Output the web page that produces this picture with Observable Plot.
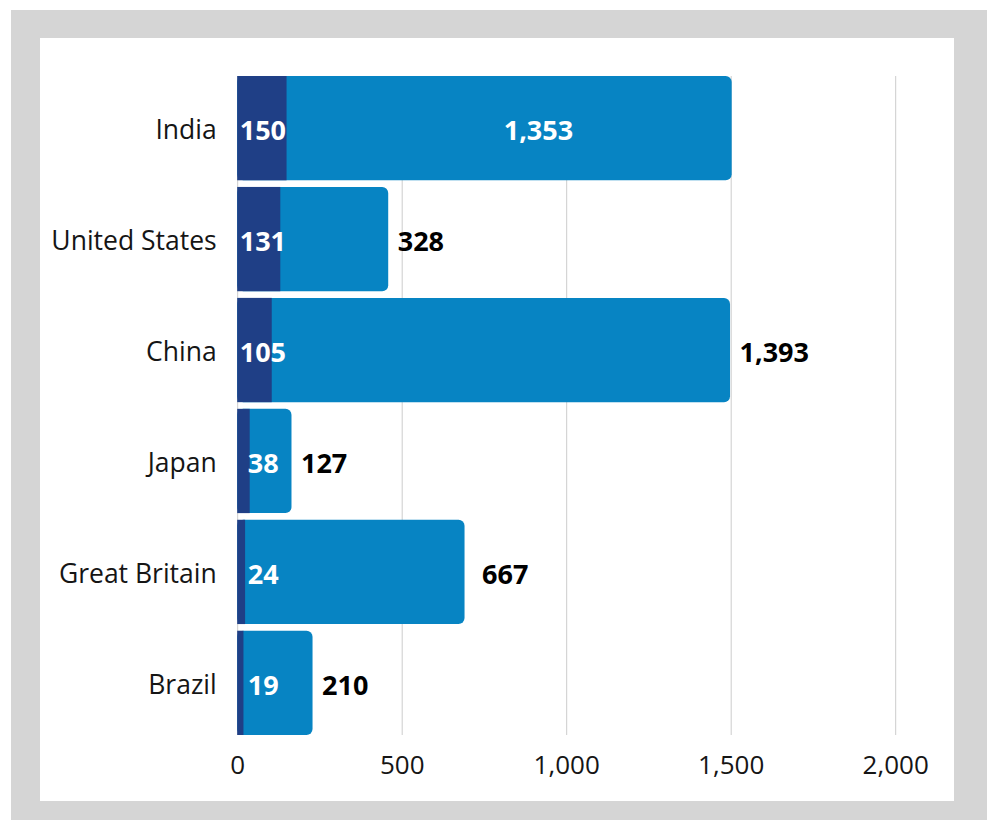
<!DOCTYPE html>
<html>
<head>
<meta charset="utf-8">
<script src="https://cdn.jsdelivr.net/npm/d3@7"></script>
<script src="https://cdn.jsdelivr.net/npm/@observablehq/plot@0.6"></script>
<style>
  html, body { margin: 0; padding: 0; width: 987px; height: 820px; overflow: hidden; background: #ffffff; }
  #frame { position: absolute; left: 11px; top: 10px; width: 976px; height: 810px; background: #d5d5d5; }
  #panel { position: absolute; left: 40px; top: 38px; width: 914px; height: 763px; background: #ffffff; }
  #chart { position: absolute; left: 0; top: 0; }
</style>
</head>
<body>
<div id="frame"></div>
<div id="panel"></div>
<div id="chart"></div>
<script>
const countries = ["India", "United States", "China", "Japan", "Great Britain", "Brazil"];
const seriesA = [150, 131, 105, 38, 24, 19];
const seriesB = [1353, 328, 1393, 127, 667, 210];
const xTicks = [0, 500, 1000, 1500, 2000];

const rows = countries.map((c, i) => ({
  country: c,
  a: seriesA[i],
  b: seriesB[i],
  total: seriesA[i] + seriesB[i]
}));

const dark = "#1f3f86";
const light = "#0784c3";
const fmt = d3.format(",");
const insideLabels = ["India"];
const labelSize = 27;
const labelDy = 3;

const chart = Plot.plot({
  width: 987,
  height: 820,
  marginLeft: 237.2,
  marginRight: 91.8,
  marginTop: 76,
  marginBottom: 85,
  style: {
    fontFamily: "'Open Sans', 'Noto Sans', sans-serif",
    fontSize: "26px",
    color: "#151515",
    background: "transparent"
  },
  x: {
    domain: [0, 2000],
    ticks: xTicks,
    tickFormat: fmt,
    tickSize: 0,
    tickPadding: 20,
    label: null
  },
  y: {
    domain: countries,
    paddingInner: 0.06,
    paddingOuter: 0,
    round: false,
    tickSize: 0,
    tickPadding: 21,
    label: null
  },
  marks: [
    Plot.ruleX(xTicks, {x: d => d, stroke: "#cccccc", strokeWidth: 1}),
    Plot.barX(rows, {y: "country", x1: () => 0, x2: "total", fill: light, rx: 6}),
    Plot.barX(rows, {y: "country", x1: () => 0, x2: "a", fill: dark}),
    Plot.text(rows.filter(d => d.a >= 50), {
      y: "country", x: () => 0, text: d => fmt(d.a), textAnchor: "start",
      dx: 2, dy: labelDy, fill: "#ffffff", fontWeight: "bold", fontSize: labelSize
    }),
    Plot.text(rows.filter(d => d.a < 50), {
      y: "country", x: () => 0, text: d => fmt(d.a), textAnchor: "start",
      dx: 10, dy: labelDy, fill: "#ffffff", fontWeight: "bold", fontSize: labelSize
    }),
    Plot.text(rows.filter(d => insideLabels.includes(d.country)), {
      y: "country", x: "total", text: d => fmt(d.b), textAnchor: "end",
      dx: -159, dy: labelDy, fill: "#ffffff", fontWeight: "bold", fontSize: labelSize
    }),
    Plot.text(rows.filter(d => !insideLabels.includes(d.country) && d.country !== "Great Britain"), {
      y: "country", x: "total", text: d => fmt(d.b), textAnchor: "start",
      dx: 9, dy: labelDy, fill: "#000000", fontWeight: "bold", fontSize: labelSize
    }),
    Plot.text(rows.filter(d => d.country === "Great Britain"), {
      y: "country", x: "total", text: d => fmt(d.b), textAnchor: "start",
      dx: 17, dy: labelDy, fill: "#000000", fontWeight: "bold", fontSize: labelSize
    })
  ]
});

d3.select(chart).selectAll('g[aria-label="y-axis tick label"]').each(function() {
  const g = d3.select(this);
  const t = g.attr("transform") || "";
  g.attr("font-size", 26.5).attr("transform", (t + " translate(0,2)").trim());
});

document.getElementById("chart").appendChild(chart);
</script>
</body>
</html>
